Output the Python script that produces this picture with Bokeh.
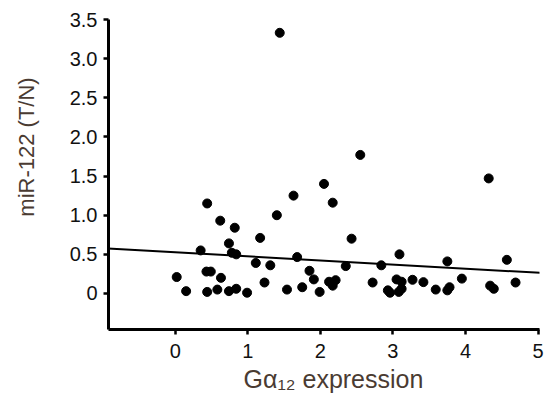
from bokeh.plotting import figure
from bokeh.models import Slope, FixedTicker, PrintfTickFormatter, Title
from bokeh.embed import file_html
from bokeh.resources import INLINE

# ---- data ----
galpha12 = [0.02, 0.15, 0.44, 0.35, 0.43, 0.49, 0.44, 0.58, 0.63, 0.62,
            0.74, 0.82, 0.78, 0.84, 0.74, 0.84, 0.99, 1.11, 1.17, 1.23,
            1.31, 1.40, 1.44, 1.54, 1.63, 1.68, 1.75, 1.85, 1.91, 1.99,
            2.05, 2.17, 2.12, 2.17, 2.21, 2.35, 2.43, 2.55, 2.72, 2.84,
            2.93, 2.96, 3.05, 3.09, 3.12, 3.08, 3.12, 3.27, 3.42, 3.59,
            3.75, 3.78, 3.75, 3.95, 4.32, 4.34, 4.39, 4.57, 4.69]
mir122 = [0.21, 0.03, 1.15, 0.55, 0.28, 0.28, 0.02, 0.05, 0.20, 0.93,
          0.64, 0.84, 0.52, 0.50, 0.03, 0.06, 0.01, 0.39, 0.71, 0.14,
          0.36, 1.00, 3.33, 0.05, 1.25, 0.465, 0.08, 0.29, 0.18, 0.02,
          1.40, 1.16, 0.15, 0.10, 0.17, 0.35, 0.70, 1.77, 0.14, 0.36,
          0.04, 0.01, 0.18, 0.50, 0.15, 0.02, 0.06, 0.175, 0.145, 0.05,
          0.04, 0.08, 0.41, 0.19, 1.47, 0.10, 0.06, 0.43, 0.14]
fit_slope = -0.0524
fit_intercept = 0.527
x_ticks = [0, 1, 2, 3, 4, 5]
y_ticks = [0, 0.5, 1.0, 1.5, 2.0, 2.5, 3.0, 3.5]
x_title = "G\u03b1\u2081\u2082 expression"
y_title = "miR-122 (T/N)"

label_color = "#4a3b32"
font = "Liberation Sans"

p = figure(width=547, height=408, output_backend="svg", toolbar_location=None,
           x_range=(-0.92, 5.02), y_range=(-0.46, 3.5), title=None,
           min_border_left=108, min_border_right=8, min_border_top=19,
           min_border_bottom=79)
p.outline_line_color = None
p.grid.visible = False
p.background_fill_color = "white"
p.border_fill_color = "white"

for ax in (p.xaxis[0], p.yaxis[0]):
    ax.axis_line_width = 3
    ax.axis_line_color = "black"
    ax.major_tick_line_width = 2.5
    ax.major_tick_line_color = "black"
    ax.major_tick_out = 5
    ax.major_tick_in = 0
    ax.minor_tick_line_color = None
    ax.major_label_text_font = font
    ax.major_label_text_font_size = "20px"
    ax.major_label_text_color = "#111111"

p.xaxis.ticker = FixedTicker(ticks=x_ticks)
p.yaxis.ticker = FixedTicker(ticks=y_ticks)
p.yaxis.formatter = PrintfTickFormatter(format="%.1f")
p.yaxis.major_label_overrides = {0: "0"}
p.xaxis.major_label_standoff = 9
p.yaxis.major_label_standoff = 6

# y title: non-breaking spaces in front move the centred text up the axis
p.yaxis.axis_label = "\u00a0" * 9 + y_title
p.yaxis.axis_label_text_font = font
p.yaxis.axis_label_text_font_size = "22px"
p.yaxis.axis_label_text_font_style = "normal"
p.yaxis.axis_label_text_color = label_color
p.yaxis.axis_label_standoff = 28

p.add_layout(Slope(gradient=fit_slope, y_intercept=fit_intercept,
                   line_color="black", line_width=2))

p.scatter(galpha12, mir122, size=9, marker="circle",
          fill_color="black", line_color="black")

p.add_layout(Title(text=x_title, align="left", offset=135, standoff=4,
                   text_font=font, text_font_size="25px",
                   text_font_style="normal", text_color=label_color), "below")

open("out.html", "w").write(file_html(p, INLINE))
